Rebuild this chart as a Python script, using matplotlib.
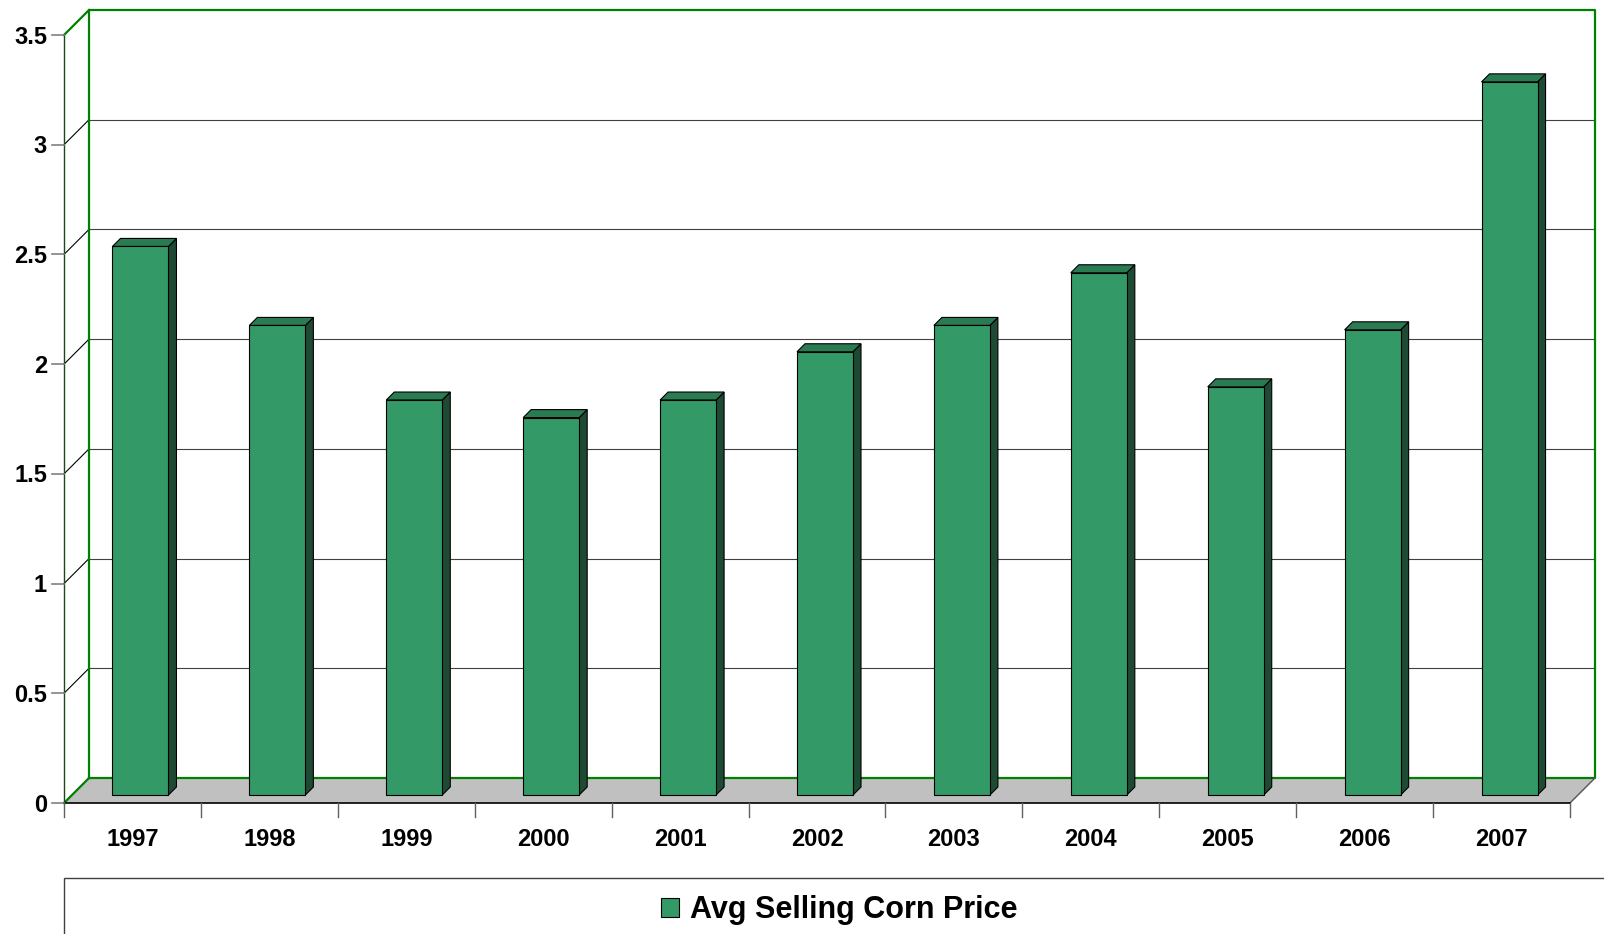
import numpy as np
import matplotlib.pyplot as plt
from matplotlib.patches import Polygon, Rectangle, Patch

plt.rcParams['font.family'] = ['Liberation Sans', 'DejaVu Sans']

# data
years = ['1997', '1998', '1999', '2000', '2001', '2002', '2003', '2004', '2005', '2006', '2007']
prices = [2.50, 2.14, 1.80, 1.72, 1.80, 2.02, 2.14, 2.38, 1.86, 2.12, 3.25]
yticks = [0, 0.5, 1, 1.5, 2, 2.5, 3, 3.5]
series_name = 'Avg Selling Corn Price'

front_c = '#339966'
top_c = '#2a7a52'
side_c = '#1e4a34'
wall_green = '#008000'

W, H = 1604, 934
fig = plt.figure(figsize=(W / 100, H / 100), dpi=100)
# front plane of the pseudo 3d box
ax = fig.add_axes([64 / W, (H - 803) / H, (1570 - 64) / W, (803 - 35) / H])
n = len(years)
ymax = 3.5
ax.set_xlim(0, n)
ax.set_ylim(0, ymax)
ax.axis('off')

ppx = (1570 - 64) / n      # pixels per x unit
ppy = (803 - 35) / ymax    # pixels per y unit
D = 25                     # depth of the box in px


def sh(x, y, d):
    # move a point d pixels "into" the chart (right and up)
    return (x + d / ppx, y + d / ppy)


def poly(pts, **kw):
    kw.setdefault('clip_on', False)
    ax.add_patch(Polygon(pts, closed=True, **kw))


# back wall
poly([sh(0, 0, D), sh(n, 0, D), sh(n, ymax, D), sh(0, ymax, D)],
     facecolor='white', edgecolor='none', zorder=1)

# gridlines on back wall + left wall
for v in yticks[1:-1]:
    a, b = sh(0, v, D), sh(n, v, D)
    ax.plot([a[0], b[0]], [a[1], b[1]], color='#404040', lw=0.8, zorder=2, clip_on=False)
    ax.plot([0, a[0]], [v, a[1]], color='black', lw=0.8, zorder=2, clip_on=False)

# floor
poly([(0, 0), (n, 0), sh(n, 0, D), sh(0, 0, D)], facecolor='#c0c0c0', edgecolor='none', zorder=2)

# green wall outline
bl, br, tr, tl = sh(0, 0, D), sh(n, 0, D), sh(n, ymax, D), sh(0, ymax, D)
ax.plot([bl[0], br[0], tr[0], tl[0], bl[0]], [bl[1], br[1], tr[1], tl[1], bl[1]],
        color=wall_green, lw=1.6, zorder=3, clip_on=False)
ax.plot([0, tl[0]], [ymax, tl[1]], color=wall_green, lw=1.6, zorder=3, clip_on=False)
ax.plot([0, bl[0]], [0, bl[1]], color=wall_green, lw=1.6, zorder=3, clip_on=False)
ax.plot([0, 0], [0, ymax], color='#1a4a1a', lw=1.0, zorder=3, clip_on=False)
ax.plot([n, br[0]], [0, br[1]], color='#555555', lw=1.0, zorder=3, clip_on=False)
ax.plot([0, n], [0, 0], color='black', lw=1.2, zorder=3, clip_on=False)

# y ticks and labels
for v in yticks:
    ax.plot([-12 / ppx, 0], [v, v], color='#808080', lw=1.2, zorder=3, clip_on=False)
    ax.text(-17 / ppx, v - 2 / ppy, f'{v:g}', ha='right', va='center', fontsize=17,
            fontweight='bold', color='black')

# x ticks and labels
for i in range(n + 1):
    ax.plot([i, i], [0, -14 / ppy], color='#606060', lw=1.0, zorder=3, clip_on=False)
for i, yr in enumerate(years):
    ax.text(i + 0.5, -36 / ppy, yr, ha='center', va='center', fontsize=17,
            fontweight='bold', color='black')

# bars
bw = 56 / ppx
d1, d2 = 8, 16
for i, v in enumerate(prices):
    xl = i + 0.5 - bw / 2
    xr = i + 0.5 + bw / 2
    poly([sh(xr, 0, d1), sh(xr, v, d1), sh(xr, v, d2), sh(xr, 0, d2)],
         facecolor=side_c, edgecolor='black', lw=0.8, zorder=4)
    poly([sh(xl, v, d1), sh(xr, v, d1), sh(xr, v, d2), sh(xl, v, d2)],
         facecolor=top_c, edgecolor='black', lw=0.8, zorder=4)
    poly([sh(xl, 0, d1), sh(xr, 0, d1), sh(xr, v, d1), sh(xl, v, d1)],
         facecolor=front_c, edgecolor='black', lw=0.8, zorder=5)

# legend box (runs off the figure edge like the original)
fig.patches.append(Rectangle((64 / W, -0.2), 1.0, 0.2 + (H - 878) / H,
                             transform=fig.transFigure, facecolor='white',
                             edgecolor='#404040', lw=1.0))
handle = Patch(facecolor=front_c, edgecolor='black', lw=0.8, label=series_name)
fig.legend(handles=[handle], loc='center', bbox_to_anchor=(839 / W, 1 - 910 / H),
           frameon=False, prop={'size': 22, 'weight': 'bold'},
           handlelength=0.6, handleheight=0.6, handletextpad=0.35)

fig.savefig('out.png', dpi=100)
